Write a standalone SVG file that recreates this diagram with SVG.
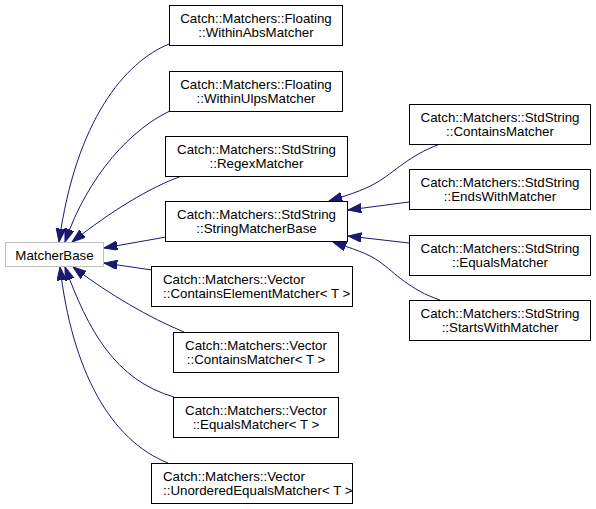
<svg xmlns="http://www.w3.org/2000/svg" width="596" height="509" viewBox="0 0 596 509">
<style>
  .box{fill:#ffffff;stroke:#000000;stroke-width:1}
  .root{fill:#ffffff;stroke:#bfbfbf;stroke-width:1}
  text{font-family:"Liberation Sans",Arial,Helvetica,sans-serif;font-size:13.3px;fill:#000000}
  .c{text-anchor:middle}
  .l{text-anchor:start}
  .e{fill:none;stroke:#191970;stroke-width:1;marker-end:url(#arr)}
</style>
<defs>
  <marker id="arr" markerUnits="userSpaceOnUse" markerWidth="14" markerHeight="10" refX="13.3" refY="4.65" orient="auto">
    <path d="M0,0 L13.3,4.65 L0,9.3 Z" fill="#191970" stroke="#191970" stroke-width="1"/>
  </marker>
</defs>
<rect width="596" height="509" fill="#ffffff"/>
<g id="edges">
  <path class="e" d="M169,44 C125,62 76,120 59,242"/>
  <path class="e" d="M172,110 C132,128 88,175 65,242"/>
  <path class="e" d="M182,176 C150,187 110,212 72,242"/>
  <path class="e" d="M166,237 L104,248"/>
  <path class="e" d="M152,270 L104,263"/>
  <path class="e" d="M184,332 C150,318 110,295 73,267"/>
  <path class="e" d="M174,397 C115,380 88,330 65,267"/>
  <path class="e" d="M168,463 C110,440 72,370 60,267"/>
  <path class="e" d="M440,144 C408,156 395,172 376,183 C362,191 345,196 329,201"/>
  <path class="e" d="M409,202 L348,210"/>
  <path class="e" d="M409,243 L348,236"/>
  <path class="e" d="M440,300 C410,290 395,273 380,262 C368,253 350,248 333,242"/>
</g>
<g id="MatcherBase">
  <rect class="root" x="5.5" y="242.5" width="98" height="24"/>
  <text class="c" x="54.5" y="259.5">MatcherBase</text>
</g>
<g id="WithinAbsMatcher">
  <rect class="box" x="169.5" y="5.5" width="173" height="40"/>
  <text class="c" x="256" y="22.5">Catch::Matchers::Floating</text>
  <text class="c" x="256" y="37">::WithinAbsMatcher</text>
</g>
<g id="WithinUlpsMatcher">
  <rect class="box" x="169.5" y="71.5" width="173" height="40"/>
  <text class="c" x="256" y="88.5">Catch::Matchers::Floating</text>
  <text class="c" x="256" y="103">::WithinUlpsMatcher</text>
</g>
<g id="RegexMatcher">
  <rect class="box" x="165.5" y="136.5" width="182" height="40"/>
  <text class="c" x="256.5" y="153.5">Catch::Matchers::StdString</text>
  <text class="c" x="256.5" y="168">::RegexMatcher</text>
</g>
<g id="StringMatcherBase">
  <rect class="box" x="165.5" y="201.5" width="182" height="40"/>
  <text class="c" x="256.5" y="218.5">Catch::Matchers::StdString</text>
  <text class="c" x="256.5" y="233">::StringMatcherBase</text>
</g>
<g id="ContainsElementMatcher">
  <rect class="box" x="151.5" y="266.5" width="201" height="40"/>
  <text class="l" x="163" y="283.5">Catch::Matchers::Vector</text>
  <text class="l" x="163" y="298">::ContainsElementMatcher&lt; T &gt;</text>
</g>
<g id="VectorContainsMatcher">
  <rect class="box" x="173.5" y="332.5" width="165" height="40"/>
  <text class="c" x="256" y="349.5">Catch::Matchers::Vector</text>
  <text class="c" x="256" y="364">::ContainsMatcher&lt; T &gt;</text>
</g>
<g id="VectorEqualsMatcher">
  <rect class="box" x="173.5" y="397.5" width="165" height="40"/>
  <text class="c" x="256" y="414.5">Catch::Matchers::Vector</text>
  <text class="c" x="256" y="429">::EqualsMatcher&lt; T &gt;</text>
</g>
<g id="UnorderedEqualsMatcher">
  <rect class="box" x="151.5" y="463.5" width="201" height="40"/>
  <text class="l" x="163" y="480.5">Catch::Matchers::Vector</text>
  <text class="l" x="163" y="495">::UnorderedEqualsMatcher&lt; T &gt;</text>
</g>
<g id="StdContainsMatcher">
  <rect class="box" x="409.5" y="104.5" width="181" height="40"/>
  <text class="c" x="500" y="121.5">Catch::Matchers::StdString</text>
  <text class="c" x="500" y="136">::ContainsMatcher</text>
</g>
<g id="EndsWithMatcher">
  <rect class="box" x="409.5" y="169.5" width="181" height="40"/>
  <text class="c" x="500" y="186.5">Catch::Matchers::StdString</text>
  <text class="c" x="500" y="201">::EndsWithMatcher</text>
</g>
<g id="StdEqualsMatcher">
  <rect class="box" x="409.5" y="235.5" width="181" height="40"/>
  <text class="c" x="500" y="252.5">Catch::Matchers::StdString</text>
  <text class="c" x="500" y="267">::EqualsMatcher</text>
</g>
<g id="StartsWithMatcher">
  <rect class="box" x="409.5" y="300.5" width="181" height="40"/>
  <text class="c" x="500" y="317.5">Catch::Matchers::StdString</text>
  <text class="c" x="500" y="332">::StartsWithMatcher</text>
</g>
</svg>
